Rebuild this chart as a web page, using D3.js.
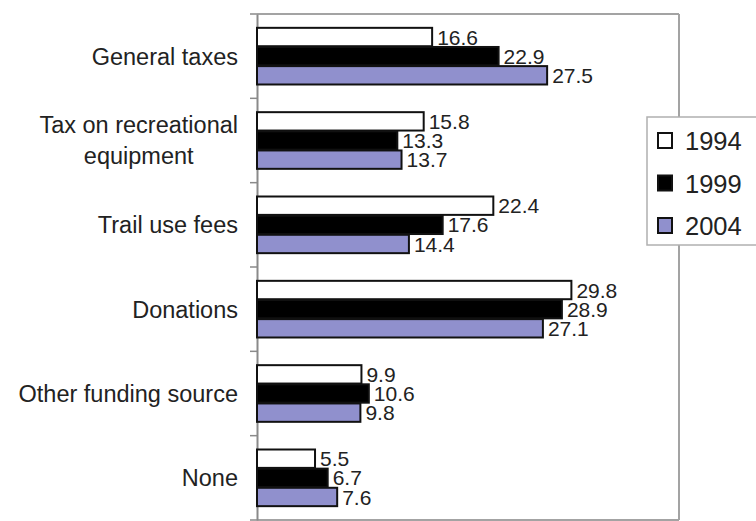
<!DOCTYPE html>
<html>
<head>
<meta charset="utf-8">
<script src="https://cdn.jsdelivr.net/npm/d3@7"></script>
<style>
  html, body { margin: 0; padding: 0; background: #fff; }
  svg { display: block; font-family: "Liberation Sans", Arial, sans-serif; }
</style>
</head>
<body>
<svg id="chart" width="756" height="521"></svg>
<script>
// Funding sources, share of responses by survey year
const categories = [
  "General taxes",
  "Tax on recreational\nequipment",
  "Trail use fees",
  "Donations",
  "Other funding source",
  "None"
];
const years = ["1994", "1999", "2004"];
const values1994 = [16.6, 15.8, 22.4, 29.8, 9.9, 5.5];
const values1999 = [22.9, 13.3, 17.6, 28.9, 10.6, 6.7];
const values2004 = [27.5, 13.7, 14.4, 27.1, 9.8, 7.6];
const seriesValues = [values1994, values1999, values2004];
const fills = ["#ffffff", "#000000", "#9090cd"];

const svg = d3.select("#chart");
const plotLeft = 257, plotRight = 679, plotTop = 14, plotBottom = 520;

const x = d3.scaleLinear().domain([0, 40]).range([plotLeft, plotRight]);
const y0 = d3.scaleBand().domain(categories).range([plotTop, plotBottom]).padding(0);
const y1 = d3.scaleBand().domain(years)
  .range([y0.bandwidth() * 0.155, y0.bandwidth() * 0.845]).padding(0.04);

// frame
const frame = svg.append("g").attr("stroke", "#a3a3a3").attr("stroke-width", 2).attr("fill", "none");
frame.append("line").attr("x1", plotLeft).attr("x2", plotRight).attr("y1", plotTop).attr("y2", plotTop);
frame.append("line").attr("x1", plotRight).attr("x2", plotRight).attr("y1", plotTop).attr("y2", plotBottom);
frame.append("line").attr("x1", plotLeft).attr("x2", plotRight).attr("y1", plotBottom).attr("y2", plotBottom);

// left axis with ticks on group boundaries
const axis = svg.append("g").attr("transform", `translate(${plotLeft},0)`)
  .call(d3.axisLeft(y0).tickSize(0).tickFormat(""));
axis.select(".domain").attr("stroke", "#8a8a8a").attr("stroke-width", 2);
const boundaries = categories.map(c => y0(c)).concat([plotBottom]);
svg.append("g").selectAll("line").data(boundaries).join("line")
  .attr("x1", plotLeft - 7).attr("x2", plotLeft)
  .attr("y1", d => d).attr("y2", d => d)
  .attr("stroke", "#8a8a8a").attr("stroke-width", 1.5);

// bars
const rows = [];
categories.forEach((c, i) => {
  years.forEach((yr, j) => rows.push({ c, yr, j, v: seriesValues[j][i] }));
});

svg.append("g").selectAll("rect").data(rows).join("rect")
  .attr("x", x(0))
  .attr("y", d => y0(d.c) + y1(d.yr))
  .attr("width", d => x(d.v) - x(0))
  .attr("height", y1.bandwidth())
  .attr("fill", d => fills[d.j])
  .attr("stroke", "#111")
  .attr("stroke-width", 2);

// value labels
svg.append("g").selectAll("text").data(rows).join("text")
  .attr("x", d => x(d.v) + 5)
  .attr("y", d => y0(d.c) + y1(d.yr) + y1.bandwidth() / 2)
  .attr("dy", "0.36em")
  .attr("font-size", 21)
  .attr("fill", "#222")
  .text(d => d.v.toFixed(1));

// category labels (multi-line labels centred as a block, right-aligned to the axis)
const labelG = svg.append("g").attr("font-size", 23.5).attr("fill", "#222");
categories.forEach(c => {
  const lines = c.split("\n");
  const cy = y0(c) + y0.bandwidth() / 2;
  const lh = 31;
  const t = labelG.append("text").attr("text-anchor", "end");
  lines.forEach((ln, k) => {
    t.append("tspan")
      .attr("x", 238)
      .attr("y", cy + (k - (lines.length - 1) / 2) * lh)
      .attr("dy", "0.36em")
      .text(ln);
  });
  if (lines.length > 1) {
    const spans = t.selectAll("tspan").nodes();
    const widths = spans.map(s => s.getComputedTextLength());
    const maxW = d3.max(widths);
    t.attr("text-anchor", "middle");
    t.selectAll("tspan").attr("x", 238 - maxW / 2);
  }
});

// legend
const lg = svg.append("g");
lg.append("rect").attr("x", 647).attr("y", 117).attr("width", 120).attr("height", 128)
  .attr("fill", "#fff").attr("stroke", "#b0b0b0").attr("stroke-width", 1.5);
const legendY = d3.scalePoint().domain(years).range([141, 226]);
years.forEach((yr, j) => {
  lg.append("rect")
    .attr("x", 658).attr("y", legendY(yr) - 8)
    .attr("width", 14).attr("height", 15)
    .attr("fill", fills[j]).attr("stroke", "#111").attr("stroke-width", 2);
  lg.append("text")
    .attr("x", 685).attr("y", legendY(yr))
    .attr("dy", "0.36em")
    .attr("font-size", 25.5).attr("fill", "#222")
    .text(yr);
});
</script>
</body>
</html>
